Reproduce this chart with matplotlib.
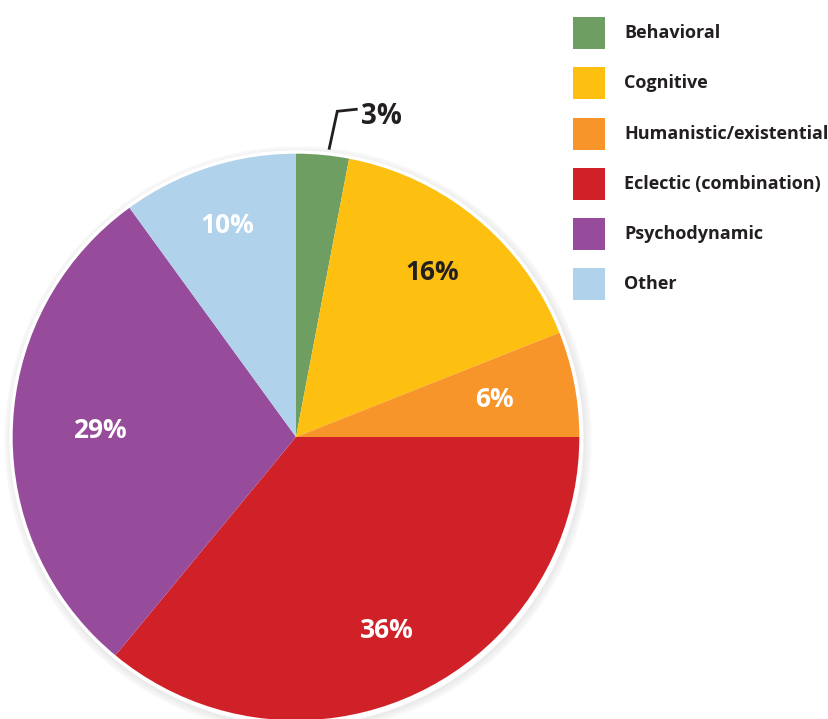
import numpy as np
import matplotlib
matplotlib.use('Agg')
import matplotlib.pyplot as plt
from matplotlib.patches import Circle, Rectangle

# Data
categories = ['Behavioral', 'Cognitive', 'Humanistic/existential',
              'Eclectic (combination)', 'Psychodynamic', 'Other']
shares = [3, 16, 6, 36, 29, 10]
labels = ['3%', '16%', '6%', '36%', '29%', '10%']

colors = ['#6f9e63', '#fdc010', '#f7952b', '#d12128', '#974b9b', '#b0d2ea']
text_colors = ['#231f20', '#231f20', 'white', 'white', 'white', 'white']
label_radius = [None, 0.75, 0.71, 0.75, 0.69, 0.78]

plt.rcParams['font.family'] = ['Open Sans', 'DejaVu Sans']

W, H = 829, 719
fig = plt.figure(figsize=(W / 100, H / 100), dpi=100)
ax = fig.add_axes([0, 0, 1, 1])

cx, cy, R = 296, H - 437, 285

# soft shadow
for k in range(8):
    ax.add_patch(Circle((cx + 2, cy - 3), R + 1 + k, facecolor='none',
                        edgecolor='#7a7a7a', linewidth=1.2, alpha=0.10 - k * 0.011,
                        zorder=0))

wedges, _ = ax.pie(shares, colors=colors, startangle=90, counterclock=False,
                   center=(cx, cy), radius=R, wedgeprops=dict(linewidth=0),
                   frame=True)
ax.add_patch(Circle((cx, cy), R, facecolor='none', edgecolor='white',
                    linewidth=2.4, zorder=5))

for w, lab, tc, rf in zip(wedges, labels, text_colors, label_radius):
    mid = np.deg2rad((w.theta1 + w.theta2) / 2)
    if rf is None:
        # small slice: label outside with a leader line
        ex, ey = cx + (R + 5) * np.cos(mid) + 6, cy + (R + 5) * np.sin(mid)
        kx, ky = ex + 8, ey + 37
        ax.plot([ex, kx, kx + 19], [ey, ky, ky + 2], color='#231f20',
                linewidth=2, solid_joinstyle='miter', zorder=6)
        ax.text(kx + 24, ky - 5, lab, fontsize=20, fontweight='bold',
                color=tc, ha='left', va='center')
    else:
        ax.text(cx + rf * R * np.cos(mid), cy + rf * R * np.sin(mid), lab,
                fontsize=19, fontweight='bold', color=tc,
                ha='center', va='center', zorder=6)

# legend
for i, (name, c) in enumerate(zip(categories, colors)):
    yc = H - (33 + i * 50.3)
    ax.add_patch(Rectangle((573, yc - 16), 32, 32, facecolor=c,
                           edgecolor='none'))
    ax.text(624, yc, name, fontsize=13, fontweight='bold', color='#231f20',
            ha='left', va='center')

ax.set_xlim(0, W)
ax.set_ylim(0, H)
ax.set_aspect('equal')
ax.axis('off')

fig.savefig('out.png', dpi=100)
